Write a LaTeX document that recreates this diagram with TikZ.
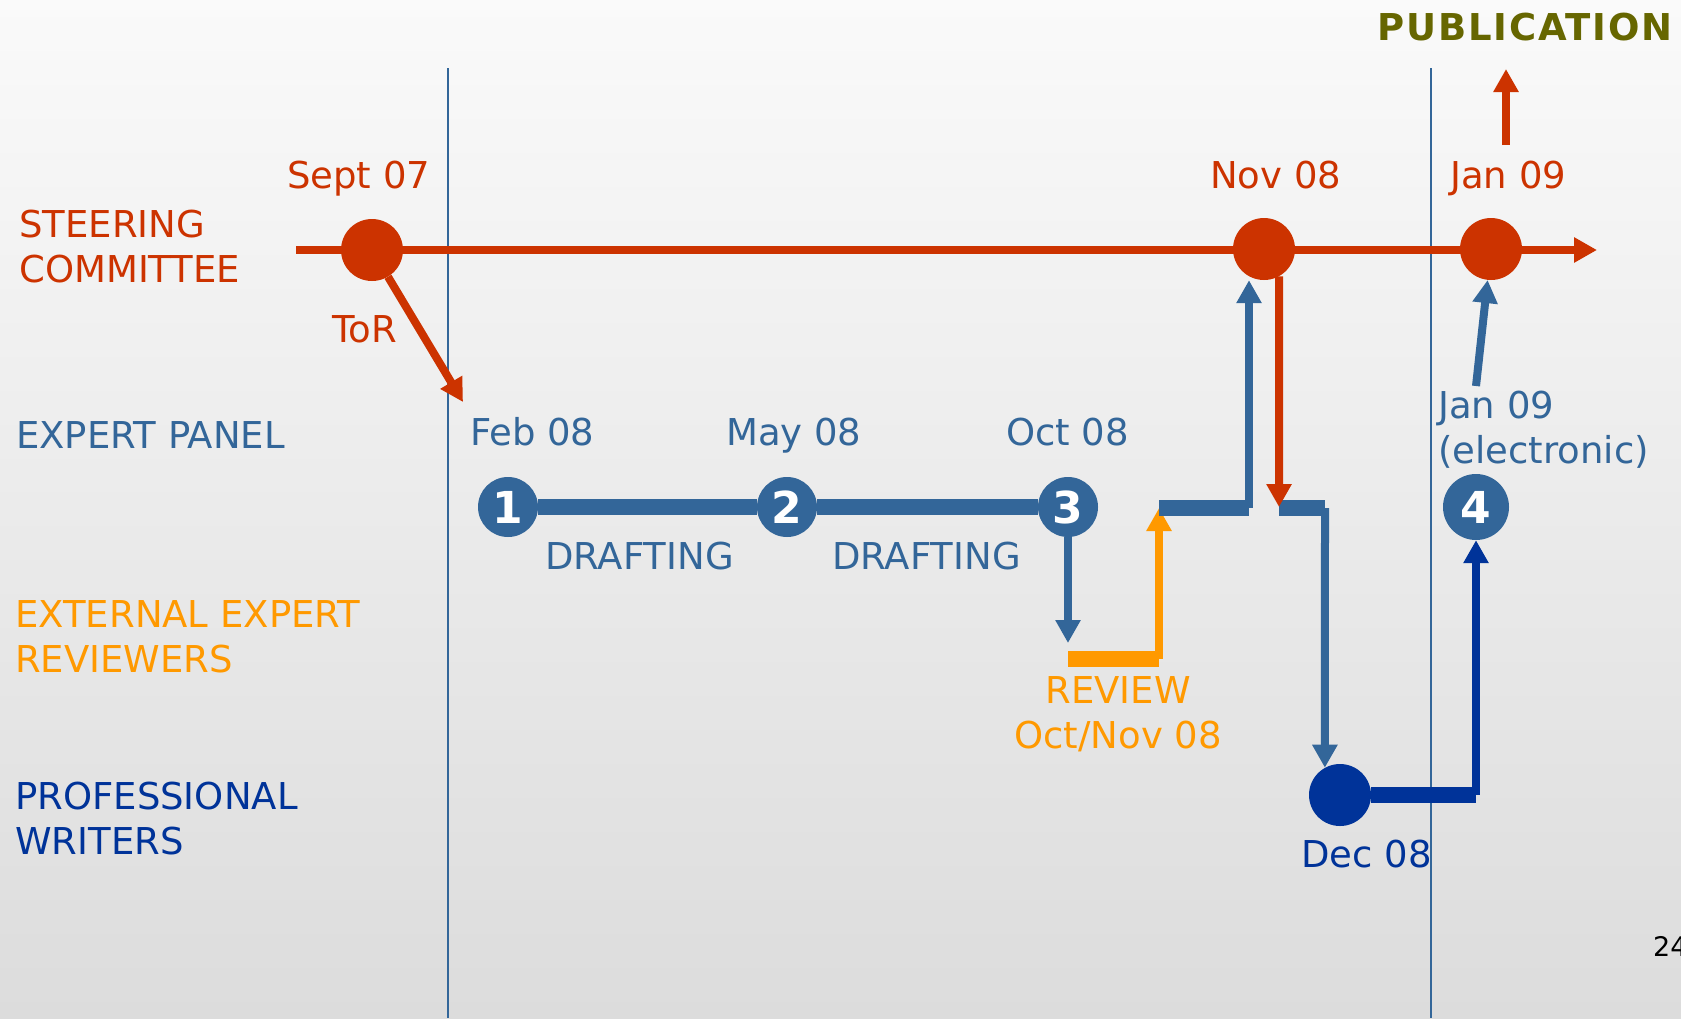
\documentclass[tikz,border=0pt]{standalone}
\usepackage{fontspec}
\setmainfont{DejaVu Sans}
\usetikzlibrary{arrows.meta}
\definecolor{steerred}{RGB}{204,51,0}
\definecolor{panelblue}{RGB}{51,102,153}
\definecolor{revorange}{RGB}{255,153,0}
\definecolor{writerblue}{RGB}{0,51,153}
\definecolor{pubolive}{RGB}{102,102,0}
\definecolor{bgtop}{RGB}{250,250,250}
\definecolor{bgbot}{RGB}{220,220,220}
\tikzset{
  lbl/.style={inner sep=0pt, anchor=base west, font=\fontsize{37}{45}\selectfont},
  milestone/.style={circle, inner sep=0pt, minimum size=62pt, fill=#1},
  numdot/.style={circle, inner sep=0pt, minimum size=60pt, fill=panelblue, text=white,
    font=\fontsize{44}{44}\selectfont\bfseries},
  headed/.style={-{Triangle[length=23pt,width=24pt]}},
  thin/.style={line width=8pt},
  bar/.style={line width=16pt},
}
\begin{document}
\begin{tikzpicture}[x=1pt,y=-1pt]
% Background and phase separators
\shade[top color=bgtop, bottom color=bgbot] (0,0) rectangle (1681,1018);
\useasboundingbox (0,0) rectangle (1681,1018);
\draw[panelblue, line width=1.5pt] (448,68) -- (448,1018);
\draw[panelblue, line width=1.5pt] (1431,68) -- (1431,1018);
% Steering committee
\coordinate (tlStart) at (296,250);
\coordinate (tlEnd) at (1597,250);
\draw[steerred, thin, headed] (tlStart) -- (tlEnd);
\node[milestone=steerred] (sept) at (372,250) {};
\node[milestone=steerred] (nov) at (1264,249) {};
\node[milestone=steerred] (jan) at (1491,249) {};
\node[lbl, text=steerred, align=left] (steer) at (19,282) {STEERING\\COMMITTEE};
\node[lbl, text=steerred] (septlbl) at (287,188) {Sept 07};
\node[lbl, text=steerred] (novlbl) at (1210,188) {Nov 08};
\node[lbl, text=steerred] (janlbl) at (1450,188) {Jan 09};
\node[lbl, text=steerred] (tor) at (332,342) {ToR};
% Publication
\node[lbl, text=pubolive, font=\fontsize{37}{45}\selectfont\bfseries\addfontfeature{LetterSpace=5}] (pub) at (1377,40) {PUBLICATION};
\coordinate (pubFoot) at (1506,145);
\coordinate (pubHead) at (1506,69);
\draw[steerred, thin, headed] (pubFoot) -- (pubHead);
% Expert panel
\node[lbl, text=panelblue] (panel) at (16,448) {EXPERT PANEL};
\node[numdot] (c1) at (508,507) {1};
\node[numdot] (c2) at (787,507) {2};
\node[numdot] (c3) at (1068,507) {3};
\node[numdot, minimum size=66pt] (c4) at (1476,507) {4};
\draw[panelblue, bar] (c1) -- (c2) -- (c3);
\node[lbl, text=panelblue] (feb) at (470,445) {Feb 08};
\node[lbl, text=panelblue] (may) at (726,445) {May 08};
\node[lbl, text=panelblue] (oct) at (1006,445) {Oct 08};
\node[lbl, text=panelblue] (draft1) at (545,569) {DRAFTING};
\node[lbl, text=panelblue] (draft2) at (832,569) {DRAFTING};
\node[lbl, text=panelblue, align=left] (elec) at (1438,463) {Jan 09\\(electronic)};
% ToR to panel
\coordinate (torEnd) at (463,402);
\draw[steerred, thin, headed] (sept) -- (torEnd);
% External expert reviewers
\node[lbl, text=revorange, align=left] (ext) at (15,672) {EXTERNAL EXPERT\\REVIEWERS};
\node[lbl, text=revorange, anchor=base, align=center] (review) at (1118,748) {REVIEW\\Oct/Nov 08};
\coordinate (revTop) at (1068,643);
\coordinate (revL) at (1068,659);
\coordinate (revR) at (1159,659);
\coordinate (epIn) at (1159,508);
\coordinate (epUp) at (1249,508);
\draw[panelblue, thin, headed] (c3) -- (revTop);
\draw[revorange, bar] (revL) -- (revR);
\draw[revorange, thin, headed] (revR) -- (epIn);
% Back to the committee and on to the writers
\draw[panelblue, bar] (epIn) -- (epUp);
\draw[panelblue, thin, headed] (epUp) -- (epUp |- nov.south);
\coordinate (redFoot) at (1279,507);
\coordinate (blueTurn) at (1325,508);
\draw[panelblue, bar] (1279,508) -- (blueTurn);
\draw[steerred, thin, headed] (nov.-61) -- (redFoot);
% Professional writers
\node[lbl, text=writerblue, align=left] (writers) at (15,854) {PROFESSIONAL\\WRITERS};
\node[milestone=writerblue] (dec) at (1340,795) {};
\node[lbl, text=writerblue] (declbl) at (1301,867) {Dec 08};
\draw[panelblue, thin, headed] (blueTurn) -- (dec.119);
\coordinate (decR) at (1476,795);
\draw[writerblue, bar] (dec) -- (decR);
\draw[writerblue, thin, headed] (decR) -- (c4);
% Electronic version to the committee
\coordinate (elecFoot) at (1476,386);
\draw[panelblue, thin, headed] (elecFoot) -- (jan);
% Page number
\node[inner sep=0pt, anchor=base west, font=\fontsize{27}{27}\selectfont] (pageno) at (1653,956) {24};
\end{tikzpicture}
\end{document}
